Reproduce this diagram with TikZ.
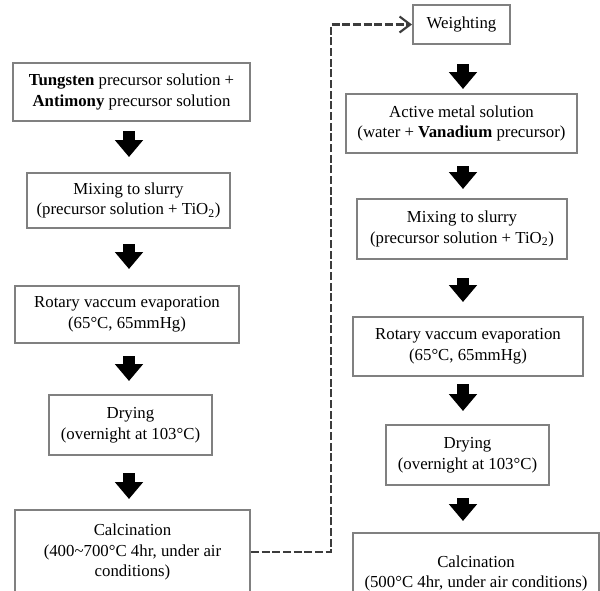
\documentclass[tikz,border=0pt]{standalone}
\usepackage{fontspec}
\setmainfont{Liberation Serif}
\usepackage{tikz}
\usetikzlibrary{arrows.meta}
\definecolor{boxgray}{RGB}{128,128,128}
\definecolor{linkgray}{RGB}{60,60,60}

\tikzset{
	stepbox/.style={draw=boxgray, line width=1.5pt, align=center, inner sep=2pt, font=\fontsize{12.6}{15.6}\selectfont},
	blockarrow/.style={line width=9pt, -{Triangle[width=20.5pt,length=12.75pt]}},
	dashlink/.style={draw=linkgray, line width=2pt, dash pattern=on 6pt off 2pt, -{Straight Barb[length=8pt,width=12pt,line width=1.6pt]}}
}

\begin{document}
\begin{tikzpicture}[x=0.75pt,y=-0.75pt]
				\useasboundingbox (0,0) rectangle (600,590);
				\clip (0,0) rectangle (600,590);
				\coordinate (lx) at (129,0);
				\coordinate (rx) at (463,0);
				\coordinate (bend) at (331,0);
				\node[stepbox, minimum width=177.75pt, minimum height=43.5pt] (l1) at (131.5,92) {\textbf{Tungsten} precursor solution +\\\textbf{Antimony} precursor solution};
				\node[stepbox, minimum width=152.25pt, minimum height=41.25pt] (l2) at (128.5,200.5) {Mixing to slurry\\(precursor solution + TiO\textsubscript{2})};
				\node[stepbox, minimum width=168pt, minimum height=42.75pt] (l3) at (127,314.5) {Rotary vaccum evaporation\\(65°C, 65mmHg)};
				\node[stepbox, minimum width=122.25pt, minimum height=45pt] (l4) at (130.5,425) {Drying\\(overnight at 103°C)};
				\node[stepbox, minimum width=176.25pt, minimum height=63pt] (l5) at (132.5,552) {Calcination\\(400\textasciitilde700°C 4hr, under air\\conditions)};
				\node[stepbox, minimum width=72.75pt, minimum height=29.25pt] (r1) at (461.5,24.5) {Weighting};
				\node[stepbox, minimum width=173.25pt, minimum height=44.25pt] (r2) at (461.5,123.5) {Active metal solution\\(water + \textbf{Vanadium} precursor)};
				\node[stepbox, minimum width=157.5pt, minimum height=45pt] (r3) at (462,229) {Mixing to slurry\\(precursor solution + TiO\textsubscript{2})};
				\node[stepbox, minimum width=172.5pt, minimum height=44.25pt] (r4) at (468,346.5) {Rotary vaccum evaporation\\(65°C, 65mmHg)};
				\node[stepbox, minimum width=122.25pt, minimum height=45pt] (r5) at (467.5,455) {Drying\\(overnight at 103°C)};
				\node[stepbox, minimum width=184.5pt, minimum height=60.75pt] (r6) at (476,573.5) {Calcination\\(500°C 4hr, under air conditions)};
				\foreach \a/\b/\s/\e in {l1/l2/6.75/11.25, l2/l3/11.25/12, l3/l4/9/9.75, l4/l5/12.75/7.5}
					\draw[blockarrow, shorten <=\s pt, shorten >=\e pt] (\a.south -| lx) -- (\b.north -| lx);
				\foreach \a/\b/\s/\e in {r1/r2/14.25/3, r2/r3/9/6.75, r3/r4/13.5/10.5, r4/r5/5.25/9.75, r5/r6/9/8.25}
					\draw[blockarrow, shorten <=\s pt, shorten >=\e pt] (\a.south -| rx) -- (\b.north -| rx);
				\draw[dashlink] (l5.east) -| (bend |- r1.west) -- (r1.west);
			\end{tikzpicture}
\end{document}
